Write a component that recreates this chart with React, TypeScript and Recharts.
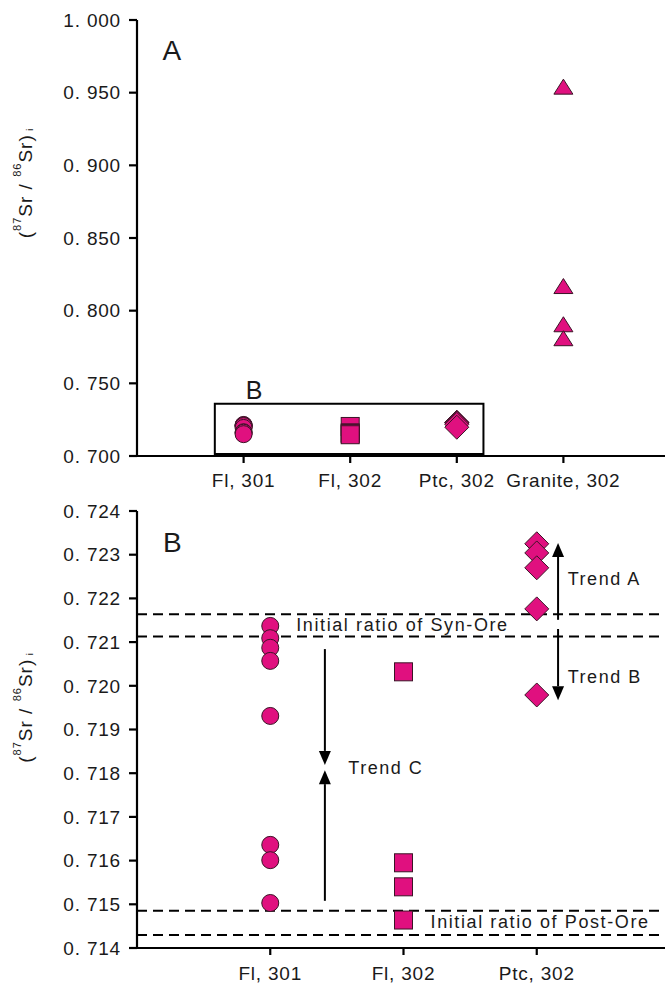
import React from "react";
import {
  ScatterChart, Scatter, XAxis, YAxis, ReferenceLine, ReferenceArea, ReferenceDot,
} from "recharts";

const topCategories = ["Fl, 301", "Fl, 302", "Ptc, 302", "Granite, 302"];
const bottomCategories = ["Fl, 301", "Fl, 302", "Ptc, 302"];

const fl301 = [0.72137, 0.72109, 0.72087, 0.72057, 0.71931, 0.71636, 0.71601, 0.71503];
const fl302 = [0.72032, 0.71595, 0.7154, 0.71464];
const ptc302 = [0.72325, 0.72304, 0.7227, 0.72176, 0.71979];
const granite302 = [0.9538, 0.8166, 0.7903, 0.7807];

const synOre = [0.72164, 0.72113];
const postOre = [0.71485, 0.7143];

const topTicks = [0.7, 0.75, 0.8, 0.85, 0.9, 0.95, 1.0];
const bottomTicks = [0.714, 0.715, 0.716, 0.717, 0.718, 0.719, 0.72, 0.721, 0.722, 0.723, 0.724];

// box around the zoomed region in panel A
const boxX = [0.73, 3.25];
const boxY = [0.7014, 0.7359];

const MAGENTA = "#E0107F";
const EDGE = "#3a1526";
const INK = "#000";
const FONT = '"Liberation Sans", Arial, Helvetica, sans-serif';

const pts = (vals: number[], x: number) => vals.map((y) => ({ x, y }));
const fmtTick = (v: number) => v.toFixed(3).replace(".", ". ");

const CircleMark = (p: any) => <circle cx={p.cx} cy={p.cy} r={8.5} fill={MAGENTA} stroke={EDGE} strokeWidth={1} />;
const SquareMark = (p: any) => <rect x={p.cx - 9} y={p.cy - 9} width={18} height={18} fill={MAGENTA} stroke={EDGE} strokeWidth={1} />;
const DiamondMark = (p: any) => (
  <polygon points={`${p.cx},${p.cy - 12} ${p.cx + 12},${p.cy} ${p.cx},${p.cy + 12} ${p.cx - 12},${p.cy}`} fill={MAGENTA} stroke={EDGE} strokeWidth={1} />
);
const TriangleMark = (p: any) => (
  <polygon points={`${p.cx},${p.cy - 8} ${p.cx + 9.5},${p.cy + 7} ${p.cx - 9.5},${p.cy + 7}`} fill={MAGENTA} stroke={EDGE} strokeWidth={1} />
);

const Arrow = (p: any) => {
  const { x1, y1, x2, y2 } = p;
  const dx = x2 - x1, dy = y2 - y1;
  const len = Math.sqrt(dx * dx + dy * dy) || 1;
  const ux = dx / len, uy = dy / len;
  const hl = 14, hw = 6;
  const bx = x2 - ux * hl, by = y2 - uy * hl;
  return (
    <g>
      <line x1={x1} y1={y1} x2={bx} y2={by} stroke={INK} strokeWidth={2} />
      <polygon points={`${x2},${y2} ${bx - uy * hw},${by + ux * hw} ${bx + uy * hw},${by - ux * hw}`} fill={INK} />
    </g>
  );
};

const textShape = (txt: string, size: number, spacing = 0) => (p: any) => (
  <text x={p.cx} y={p.cy} fontSize={size} fontFamily={FONT} fill="#1a1a1a" dominantBaseline="central" letterSpacing={spacing}>
    {txt}
  </text>
);

const yLabel = (shift: number) => (props: any) => {
  const vb = props.viewBox || { x: 0, y: 0, width: 0, height: 0 };
  const x = 25;
  const y = vb.y + vb.height / 2 + shift;
  return (
    <text x={x} y={y} transform={`rotate(-90, ${x}, ${y})`} textAnchor="middle" dominantBaseline="central"
      fontFamily={FONT} fontSize={19} fill="#1a1a1a" letterSpacing={1}>
      {"("}
      <tspan fontSize={11} dy={-8}>87</tspan>
      <tspan dy={8}>Sr / </tspan>
      <tspan fontSize={11} dy={-8}>86</tspan>
      <tspan dy={8}>Sr)</tspan>
      <tspan fontSize={9} dy={5}>{" i"}</tspan>
    </text>
  );
};

const axisStyle = { stroke: INK, strokeWidth: 2.2 };
const tickStyle = { fill: "#1a1a1a", fontSize: 19, fontFamily: FONT, letterSpacing: 0.8 };

export default function App() {
  return (
    <div style={{ position: "absolute", left: 0, top: 0, width: 665, height: 988, overflow: "hidden", background: "#fff" }}>
      <div style={{ position: "absolute", left: 0, top: 0 }}>
        <ScatterChart width={680} height={490} margin={{ top: 20, right: 10, bottom: 0, left: 0 }}>
          <XAxis xAxisId="top" orientation="top" type="number" dataKey="x" domain={[0, 5]} tick={false} tickLine={false} axisLine={axisStyle} height={0} />
          <XAxis type="number" dataKey="x" domain={[0, 5]} ticks={[1, 2, 3, 4]} interval={0}
            tickFormatter={(v: number) => topCategories[v - 1] || ""} axisLine={axisStyle} tickLine={axisStyle}
            tickSize={7} tickMargin={11} tick={tickStyle} height={34} />
          <YAxis type="number" dataKey="y" domain={[0.7, 1.0]} ticks={topTicks} interval={0} tickFormatter={fmtTick}
            axisLine={axisStyle} tickLine={axisStyle} tickSize={8} tickMargin={8} tick={tickStyle} width={137}
            label={{ content: yLabel(-55) }} />
          <ReferenceArea x1={boxX[0]} x2={boxX[1]} y1={boxY[0]} y2={boxY[1]} fill="none" fillOpacity={0} stroke={INK} strokeWidth={2} />
          <ReferenceDot x={0.24} y={0.9793} r={0} shape={textShape("A", 28)} />
          <ReferenceDot x={1.02} y={0.7455} r={0} shape={textShape("B", 25)} />
          <Scatter data={pts(fl301, 1)} shape={CircleMark} isAnimationActive={false} />
          <Scatter data={pts(fl302, 2)} shape={SquareMark} isAnimationActive={false} />
          <Scatter data={pts(ptc302, 3)} shape={DiamondMark} isAnimationActive={false} />
          <Scatter data={pts(granite302, 4)} shape={TriangleMark} isAnimationActive={false} />
        </ScatterChart>
      </div>
      <div style={{ position: "absolute", left: 0, top: 491 }}>
        <ScatterChart width={680} height={497} margin={{ top: 20, right: 10, bottom: 0, left: 0 }}>
          <XAxis xAxisId="top" orientation="top" type="number" dataKey="x" domain={[0, 4]} tick={false} tickLine={false} axisLine={axisStyle} height={0} />
          <XAxis type="number" dataKey="x" domain={[0, 4]} ticks={[1, 2, 3]} interval={0}
            tickFormatter={(v: number) => bottomCategories[v - 1] || ""} axisLine={axisStyle} tickLine={axisStyle}
            tickSize={7} tickMargin={12} tick={tickStyle} height={40} />
          <YAxis type="number" dataKey="y" domain={[0.714, 0.724]} ticks={bottomTicks} interval={0} tickFormatter={fmtTick}
            axisLine={axisStyle} tickLine={axisStyle} tickSize={8} tickMargin={8} tick={tickStyle} width={137}
            label={{ content: yLabel(-22) }} />
          {synOre.concat(postOre).map((v, i) => (
            <ReferenceLine key={i} y={v} stroke={INK} strokeWidth={2} strokeDasharray="10 6" />
          ))}
          <ReferenceLine segment={[{ x: 3.16, y: 0.72151 }, { x: 3.16, y: 0.72327 }]} shape={Arrow} />
          <ReferenceLine segment={[{ x: 3.16, y: 0.7213 }, { x: 3.16, y: 0.71967 }]} shape={Arrow} />
          <ReferenceLine segment={[{ x: 1.41, y: 0.72084 }, { x: 1.41, y: 0.71819 }]} shape={Arrow} />
          <ReferenceLine segment={[{ x: 1.41, y: 0.71508 }, { x: 1.41, y: 0.71807 }]} shape={Arrow} />
          <ReferenceDot x={0.195} y={0.72327} r={0} shape={textShape("B", 28)} />
          <ReferenceDot x={3.233} y={0.72244} r={0} shape={textShape("Trend A", 18, 1.5)} />
          <ReferenceDot x={3.233} y={0.7202} r={0} shape={textShape("Trend B", 18, 1.5)} />
          <ReferenceDot x={1.586} y={0.71812} r={0} shape={textShape("Trend C", 18, 1.5)} />
          <ReferenceDot x={1.195} y={0.72139} r={0} shape={textShape("Initial ratio of Syn-Ore", 18, 1.6)} />
          <ReferenceDot x={2.203} y={0.7146} r={0} shape={textShape("Initial ratio of Post-Ore", 18, 1.6)} />
          <Scatter data={pts(fl301, 1)} shape={CircleMark} isAnimationActive={false} />
          <Scatter data={pts(fl302, 2)} shape={SquareMark} isAnimationActive={false} />
          <Scatter data={pts(ptc302, 3)} shape={DiamondMark} isAnimationActive={false} />
        </ScatterChart>
      </div>
    </div>
  );
}
